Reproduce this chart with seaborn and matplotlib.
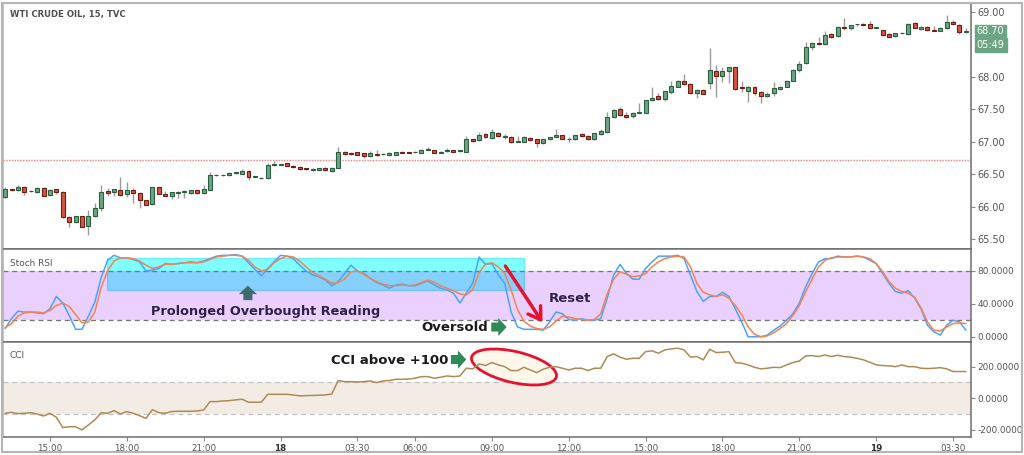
import numpy as np
import pandas as pd
import matplotlib
matplotlib.use("Agg")
import matplotlib.pyplot as plt
import seaborn as sns
from matplotlib.patches import Rectangle, Ellipse
from matplotlib.transforms import IdentityTransform, blended_transform_factory

# ---------------- data ----------------
opens = [66.15,66.27,66.25,66.31,66.24,66.22,66.29,66.18,66.27,66.23,
         65.84,65.77,65.85,65.70,65.85,65.98,66.24,66.22,66.26,66.20,
         66.26,66.21,66.10,66.04,66.30,66.20,66.17,66.21,66.22,66.21,
         66.25,66.21,66.26,66.49,66.49,66.49,66.52,66.51,66.55,66.46,
         66.44,66.44,66.64,66.65,66.67,66.63,66.61,66.59,66.57,66.57,
         66.60,66.55,66.60,66.85,66.83,66.84,66.82,66.78,66.81,66.81,
         66.79,66.80,66.85,66.84,66.84,66.83,66.88,66.87,66.83,66.86,
         66.87,66.86,66.85,67.04,67.03,67.12,67.06,67.14,67.08,67.08,
         67.00,67.00,67.06,67.04,66.98,67.04,67.08,67.10,67.04,67.04,
         67.12,67.09,67.04,67.12,67.15,67.38,67.50,67.41,67.39,67.45,
         67.45,67.64,67.70,67.66,67.77,67.85,67.93,67.89,67.75,67.80,
         67.91,68.09,68.01,68.09,68.15,67.84,67.78,67.84,67.77,67.70,
         67.75,67.82,67.85,67.94,68.10,68.21,68.46,68.53,68.50,68.66,
         68.63,68.77,68.75,68.81,68.82,68.81,68.76,68.72,68.66,68.63,
         68.67,68.66,68.83,68.74,68.77,68.73,68.71,68.75,68.84,68.80,
         68.69]
highs = [66.30,66.28,66.33,66.32,66.26,66.30,66.30,66.27,66.28,66.24,
         65.85,65.86,65.86,65.95,66.06,66.33,66.29,66.28,66.46,66.38,
         66.29,66.22,66.11,66.31,66.31,66.24,66.23,66.24,66.25,66.26,
         66.26,66.34,66.53,66.51,66.51,66.53,66.54,66.58,66.56,66.47,
         66.45,66.67,66.70,66.66,66.68,66.64,66.62,66.60,66.59,66.60,
         66.61,66.61,66.92,66.86,66.84,66.85,66.83,66.86,66.88,66.82,
         66.84,66.85,66.86,66.85,66.86,66.89,66.92,66.88,66.86,66.90,
         66.88,66.87,67.09,67.05,67.15,67.13,67.20,67.15,67.12,67.09,
         67.09,67.09,67.07,67.05,67.05,67.08,67.19,67.11,67.08,67.11,
         67.13,67.10,67.14,67.19,67.46,67.50,67.54,67.46,67.46,67.60,
         67.65,67.84,67.75,67.79,67.93,67.95,68.05,67.90,67.81,67.82,
         68.45,68.18,68.16,68.16,68.16,67.94,67.86,67.86,67.78,67.76,
         67.92,67.86,67.95,68.12,68.25,68.54,68.54,68.61,68.70,68.67,
         68.78,68.91,68.80,68.82,68.83,68.86,68.77,68.73,68.67,68.68,
         68.69,68.83,68.84,68.78,68.78,68.78,68.77,68.95,68.88,68.81,
         68.75]
lows = [66.14,66.24,66.24,66.18,66.23,66.21,66.16,66.17,66.19,65.83,
        65.69,65.75,65.68,65.56,65.84,65.93,66.16,66.16,66.16,66.15,
        66.06,65.98,66.02,66.03,66.19,66.16,66.12,66.14,66.14,66.20,
        66.20,66.20,66.25,66.47,66.47,66.48,66.51,66.50,66.41,66.45,
        66.43,66.43,66.63,66.64,66.62,66.60,66.57,66.56,66.55,66.56,
        66.55,66.54,66.59,66.80,66.80,66.79,66.75,66.77,66.78,66.80,
        66.78,66.79,66.82,66.82,66.82,66.82,66.87,66.82,66.82,66.85,
        66.84,66.85,66.84,66.99,67.02,67.06,67.05,67.08,67.04,66.98,
        66.99,66.99,67.02,66.92,66.96,67.03,67.07,67.04,66.99,67.03,
        67.08,67.03,67.03,67.11,67.14,67.37,67.40,67.37,67.36,67.44,
        67.44,67.63,67.65,67.63,67.74,67.84,67.88,67.74,67.68,67.73,
        67.82,67.69,67.92,67.91,67.80,67.77,67.61,67.72,67.60,67.69,
        67.70,67.80,67.84,67.93,68.08,68.20,68.42,68.49,68.49,68.60,
        68.62,68.72,68.72,68.78,68.79,68.74,68.75,68.63,68.61,68.61,
        68.66,68.65,68.75,68.73,68.71,68.70,68.70,68.74,68.81,68.66,
        68.68]
closes = [66.28,66.25,66.31,66.22,66.24,66.29,66.17,66.26,66.23,65.84,
          65.77,65.85,65.69,65.85,65.98,66.23,66.21,66.27,66.18,66.26,
          66.21,66.10,66.03,66.30,66.20,66.17,66.22,66.23,66.24,66.25,
          66.21,66.27,66.49,66.49,66.49,66.52,66.53,66.55,66.46,66.46,
          66.44,66.64,66.66,66.65,66.63,66.61,66.58,66.58,66.58,66.59,
          66.56,66.60,66.84,66.81,66.81,66.80,66.78,66.82,66.79,66.81,
          66.83,66.84,66.83,66.83,66.85,66.87,66.88,66.83,66.85,66.88,
          66.85,66.86,67.04,67.01,67.10,67.07,67.15,67.09,67.08,66.99,
          67.00,67.08,67.03,66.98,67.04,67.07,67.10,67.05,67.04,67.10,
          67.09,67.04,67.13,67.16,67.38,67.49,67.41,67.38,67.45,67.45,
          67.64,67.68,67.66,67.78,67.86,67.93,67.89,67.75,67.80,67.74,
          68.11,68.01,68.09,68.15,67.81,67.83,67.84,67.75,67.70,67.74,
          67.83,67.85,67.94,68.11,68.20,68.46,68.52,68.50,68.64,68.62,
          68.77,68.76,68.80,68.81,68.80,68.75,68.76,68.64,68.62,68.67,
          68.68,68.82,68.76,68.77,68.73,68.71,68.76,68.85,68.82,68.69,
          68.70]

stoch_k = [10,22,31,30,30,29,28,34,49,41,
           26,9,9,25,42,72,93,99,96,96,
           94,91,80,81,83,89,88,89,90,91,
           90,92,95,98,99,99,100,98,90,82,
           74,83,91,99,98,95,87,80,75,73,
           69,62,67,77,87,80,77,71,66,63,
           59,63,64,62,62,65,68,63,59,57,
           53,41,53,65,97,88,89,75,65,30,
           12,9,9,9,8,18,30,28,21,20,
           22,20,20,22,47,75,88,77,70,70,
           83,91,98,98,98,99,95,75,55,43,
           49,49,54,49,34,18,0,0,0,2,
           8,13,20,28,41,61,77,91,95,95,
           98,97,97,98,97,93,89,77,65,55,
           53,56,47,34,14,6,2,14,20,18,
           8]
stoch_d = [11,16,25,29,30,30,29,32,38,41,
           37,27,17,18,30,60,80,92,96,96,
           95,92,87,83,85,88,88,89,90,90,
           90,91,94,97,98,99,99,98,93,85,
           80,82,90,95,98,97,92,85,78,74,
           70,65,66,70,79,80,76,71,67,64,
           62,62,63,62,63,66,69,66,62,59,
           56,52,51,57,78,88,90,85,77,57,
           33,19,13,10,9,12,19,25,24,22,
           21,20,21,28,52,70,79,76,73,74,
           77,85,91,95,97,98,97,85,65,54,
           51,49,51,47,38,27,12,3,0,1,
           5,10,16,26,38,55,70,85,93,96,
           97,97,97,98,97,95,89,79,67,59,
           55,53,48,35,18,8,7,12,16,17,
           16]
cci = [-95,-89,-97,-95,-91,-100,-112,-95,-120,-185,
       -180,-180,-200,-169,-137,-91,-95,-78,-99,-84,
       -95,-110,-127,-72,-91,-95,-84,-82,-82,-82,
       -80,-74,-21,-21,-17,-15,-10,-6,-25,-25,
       -25,25,25,25,25,21,15,17,18,19,
       21,27,112,105,105,103,105,110,99,110,
       112,120,120,122,127,137,137,127,133,141,
       137,141,190,186,217,207,226,211,200,175,
       175,196,179,162,184,196,200,190,179,190,
       190,175,190,190,264,281,260,247,253,253,
       295,300,285,306,312,317,306,260,264,243,
       310,289,291,295,226,222,211,196,186,190,
       196,194,211,226,236,268,270,264,274,264,
       272,264,260,253,243,228,211,207,205,200,
       211,200,200,190,188,190,194,186,169,169,
       169]

tick_pos = [7, 19, 31, 43, 55, 64, 76, 88, 100, 112, 124, 136, 148]
tick_labels = ["15:00", "18:00", "21:00", "18", "03:30", "06:00", "09:00",
               "12:00", "15:00", "18:00", "21:00", "19", "03:30"]
price_ticks = [65.5, 66.0, 66.5, 67.0, 67.5, 68.0, 69.0]
stoch_ticks = [0, 40, 80]
cci_ticks = [-200, 0, 200]

df = pd.DataFrame({"bar": np.arange(len(closes)), "open": opens, "high": highs,
                   "low": lows, "close": closes, "k": stoch_k, "d": stoch_d, "cci": cci})

# ---------------- style ----------------
sns.set_theme(style="white")
plt.rcParams["font.family"] = ["DejaVu Sans"]

GREY_TXT = "#555555"
SPINE = "#6e6e6e"

fig = plt.figure(figsize=(10.24, 4.55), dpi=100)
W, H = 1024, 455
L, R = 3, 971
ax1 = fig.add_axes([L / W, 1 - 249 / H, (R - L) / W, 246 / H])
ax2 = fig.add_axes([L / W, 1 - 342 / H, (R - L) / W, 93 / H], sharex=ax1)
ax3 = fig.add_axes([L / W, 1 - 437 / H, (R - L) / W, 95 / H], sharex=ax1)

for ax, fs in ((ax1, 7), (ax2, 6.4), (ax3, 6.4)):
    for s in ax.spines.values():
        s.set_color(SPINE)
        s.set_linewidth(1.1)
    ax.spines["left"].set_color("#b0b0b0")
    ax.yaxis.tick_right()
    ax.tick_params(axis="y", which="both", right=True, left=False, length=3,
                   width=0.8, color="#888888", labelsize=fs, labelcolor=GREY_TXT, pad=1.5)
    ax.tick_params(axis="x", bottom=False, labelbottom=False)
    ax.grid(False)

ARROW = "simple,head_length=0.6,head_width=1.3,tail_width=0.65"

# ---------------- candles ----------------
up = df["close"] >= df["open"]
body_lo = np.minimum(df["open"], df["close"])
body_h = np.maximum(np.abs(df["close"] - df["open"]), 0.006)
ax1.vlines(df["bar"], df["low"], df["high"], color="#9a9a9a", lw=1, zorder=2)
ax1.bar(df["bar"][up], body_h[up], bottom=body_lo[up], width=0.62,
        color="#6ba583", edgecolor="#2c5e40", linewidth=0.8, zorder=3)
ax1.bar(df["bar"][~up], body_h[~up], bottom=body_lo[~up], width=0.62,
        color="#d75442", edgecolor="#6b1f15", linewidth=0.8, zorder=3)
ax1.axhline(66.715, color="#f08080", lw=1, ls=(0, (1, 1)), zorder=1)
ax1.set_ylim(65.348, 69.139)
ax1.set_yticks(price_ticks)
ax1.set_yticklabels([f"{v:.2f}" for v in price_ticks])
ax1.text(10 / W, 1 - 15 / H, "WTI CRUDE OIL, 15, TVC", transform=fig.transFigure,
         fontsize=6.1, fontweight="bold", color="#505050", va="center", ha="left")

tr = blended_transform_factory(ax1.transAxes, ax1.transData)
ax1.text(1.006, closes[-1], "68.70", transform=tr, fontsize=7, color="white",
         va="center", ha="left", clip_on=False, zorder=10,
         bbox=dict(boxstyle="square,pad=0.2", fc="#6ba583", ec="#6ba583"))
ax1.text(1.006, 68.495, "05:49", transform=tr, fontsize=7, color="white",
         va="center", ha="left", clip_on=False, zorder=10,
         bbox=dict(boxstyle="square,pad=0.2", fc="#6ba583", ec="#6ba583"))

# ---------------- Stoch RSI ----------------
ax2.add_patch(Rectangle((15.9, 56.8), 65.1, 38.9, facecolor="#00ffff", alpha=0.5,
                        edgecolor="#22ddff", lw=1, zorder=1))
ax2.axhspan(20, 80, color="#9915ff", alpha=0.2, lw=0, zorder=2)
ax2.axhline(80, color="#777777", lw=0.9, ls=(0, (4, 3)), zorder=2)
ax2.axhline(20, color="#777777", lw=0.9, ls=(0, (4, 3)), zorder=2)
sns.lineplot(data=df, x="bar", y="k", ax=ax2, color="#4aa3ff", lw=1.1, zorder=4, legend=False)
sns.lineplot(data=df, x="bar", y="d", ax=ax2, color="#f5834f", lw=1.1, zorder=5, legend=False)
ax2.set_ylim(-6.4, 106.7)
ax2.set_yticks(stoch_ticks)
ax2.set_yticklabels([f"{v:.4f}" for v in stoch_ticks])
ax2.set_xlabel("")
ax2.set_ylabel("")
ax2.text(10 / W, 1 - 263 / H, "Stoch RSI", transform=fig.transFigure, fontsize=6.4,
         color=GREY_TXT, va="center", ha="left")

ax2.text(40.7, 31.3, "Prolonged Overbought Reading", fontsize=9.25, fontweight="bold",
         color="#2e1f4f", ha="center", va="center", zorder=8)
ax2.annotate("", xy=(37.9, 62), xytext=(37.9, 44.5),
             arrowprops=dict(arrowstyle=ARROW, color="#3d6a6a", lw=0, mutation_scale=10,
                             shrinkA=0, shrinkB=0), zorder=8)
ax2.text(75.4, 11.5, "Oversold", fontsize=9.5, fontweight="bold", color="#1a1a1a",
         ha="right", va="center", zorder=8)
ax2.annotate("", xy=(78.3, 11.8), xytext=(75.9, 11.8),
             arrowprops=dict(arrowstyle=ARROW, color="#2f8a57", lw=0, mutation_scale=10,
                             shrinkA=0, shrinkB=0), zorder=8)
ax2.text(88.2, 46.5, "Reset", fontsize=9.5, fontweight="bold", color="#2e1f4f",
         ha="center", va="center", zorder=8)
ax2.annotate("", xy=(83.9, 17.5), xytext=(78.1, 86),
             arrowprops=dict(arrowstyle="->,head_length=0.7,head_width=0.45",
                             color="#e8112d", lw=2.5, shrinkA=0, shrinkB=0), zorder=8)

# ---------------- CCI ----------------
ax3.axhspan(-100, 100, color="#f2ece4", lw=0, zorder=1)
ax3.axhline(100, color="#c2c2c2", lw=0.9, ls=(0, (4, 3)), zorder=2)
ax3.axhline(-100, color="#c2c2c2", lw=0.9, ls=(0, (4, 3)), zorder=2)
ell = Ellipse((514, H - 367), 87, 31, angle=-13, transform=IdentityTransform(),
              facecolor="#fff7ea", edgecolor="#e8112d", lw=2, zorder=3)
ax3.add_artist(ell)
sns.lineplot(data=df, x="bar", y="cci", ax=ax3, color="#b08a55", lw=1.1, zorder=4, legend=False)
ax3.set_ylim(-245, 356)
ax3.set_yticks(cci_ticks)
ax3.set_yticklabels([f"{v:.4f}" for v in cci_ticks])
ax3.set_ylabel("")
ax3.set_xlabel("")
ax3.text(10 / W, 1 - 356 / H, "CCI", transform=fig.transFigure, fontsize=6.4,
         color=GREY_TXT, va="center", ha="left")
ax3.text(60.1, 242, "CCI above +100", fontsize=9.5, fontweight="bold", color="#1a1a1a",
         ha="center", va="center", zorder=8)
ax3.annotate("", xy=(72.0, 245), xytext=(69.6, 245),
             arrowprops=dict(arrowstyle=ARROW, color="#2f8a57", lw=0, mutation_scale=10,
                             shrinkA=0, shrinkB=0), zorder=8)

ax3.set_xticks(tick_pos)
ax3.set_xticklabels(tick_labels)
ax3.tick_params(axis="x", bottom=True, labelbottom=True, length=3, width=0.8,
                color="#888888", labelsize=6.3, labelcolor=GREY_TXT, pad=2)
for lbl in ax3.get_xticklabels():
    if lbl.get_text() in ("18", "19"):
        lbl.set_fontweight("bold")
        lbl.set_color("#333333")
ax1.set_xlim(-0.33, 150.8)

fig.patches.append(Rectangle((2 / W, 3 / H), 1020 / W, 449 / H, transform=fig.transFigure,
                             fill=False, edgecolor="#b5b5b5", lw=1.5))

fig.savefig("out.png", dpi=100)
